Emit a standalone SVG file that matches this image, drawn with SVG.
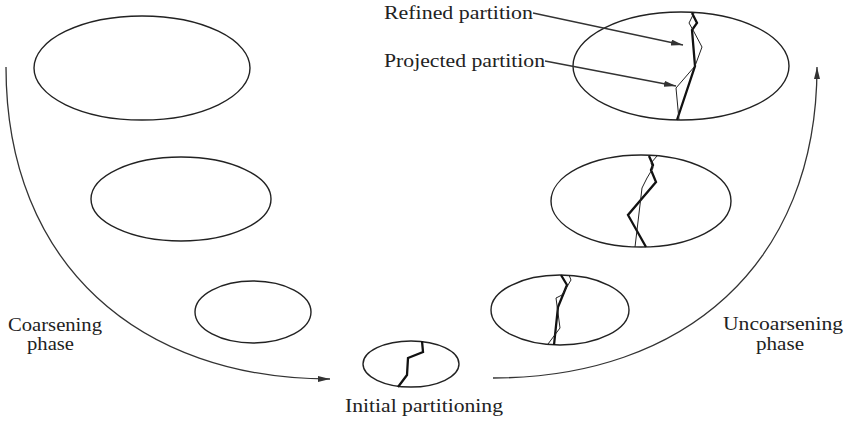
<svg xmlns="http://www.w3.org/2000/svg" width="846" height="425" viewBox="0 0 846 425">
<style>
.e{fill:none;stroke:#222;stroke-width:1.4}
.thick{fill:none;stroke:#111;stroke-width:2.3;stroke-linejoin:miter}
.thin{fill:none;stroke:#222;stroke-width:1}
.c{fill:none;stroke:#333;stroke-width:1.3}
.t{font-family:"Liberation Serif","Times New Roman",serif;font-size:19px;fill:#222}
</style>
<defs>
<marker id="ah" viewBox="0 0 12 6" refX="12" refY="3" markerWidth="12" markerHeight="6" markerUnits="userSpaceOnUse" orient="auto">
<path d="M0,0 L12,3 L0,6 Z" fill="#333"/>
</marker>
</defs>
<rect width="846" height="425" fill="#fff"/>
<g id="left1"><ellipse class="e" cx="142" cy="68" rx="108" ry="52"/></g>
<g id="left2"><ellipse class="e" cx="181" cy="199" rx="90" ry="42"/></g>
<g id="left3"><ellipse class="e" cx="253" cy="312" rx="58" ry="31"/></g>
<g id="bottom">
<ellipse class="e" cx="411" cy="364" rx="48" ry="23"/>
<polyline class="thick" points="422,341 423,352 408,358 407,375 398,387"/>
</g>
<g id="right3">
<ellipse class="e" cx="560" cy="310" rx="69" ry="35"/>
<polyline class="thick" points="561,275 567,285 558,307 554,345"/>
<polyline class="thin" points="569,275 571,280 562,295 556,298 560,328 548,344"/>
</g>
<g id="right2">
<ellipse class="e" cx="641" cy="201" rx="90" ry="46"/>
<polyline class="thick" points="649,156 653,165 651,170 656,182 628,215 646,247"/>
<polyline class="thin" points="657,156 651,163 653,168 647,178 642,188 635,247"/>
</g>
<g id="right1">
<ellipse class="e" cx="681" cy="66" rx="108" ry="54"/>
<polyline class="thick" points="692,13 697,23 692,30 695,66 677,120"/>
<polyline class="thin" points="694,13 689,23 693,30 702,47 695,66 676,88 679,120"/>
</g>
<g id="labels">
<text class="t" x="384" y="19" textLength="149" lengthAdjust="spacingAndGlyphs">Refined partition</text>
<text class="t" x="384" y="67" textLength="161" lengthAdjust="spacingAndGlyphs">Projected partition</text>
<text class="t" x="8" y="331" textLength="94" lengthAdjust="spacingAndGlyphs">Coarsening</text>
<text class="t" x="27" y="350" textLength="47" lengthAdjust="spacingAndGlyphs">phase</text>
<text class="t" x="723" y="330" textLength="120" lengthAdjust="spacingAndGlyphs">Uncoarsening</text>
<text class="t" x="756" y="350" textLength="48" lengthAdjust="spacingAndGlyphs">phase</text>
<text class="t" x="345" y="412" textLength="158" lengthAdjust="spacingAndGlyphs">Initial partitioning</text>
</g>
<g id="connectors">
<path class="c" d="M6,67 C6,265 140,379 330,379" marker-end="url(#ah)"/>
<path class="c" d="M493,378 C683,378 817,265 817,67" marker-end="url(#ah)"/>
<path class="c" d="M533,13 L683,45" marker-end="url(#ah)"/>
<path class="c" d="M545,61 L676,86" marker-end="url(#ah)"/>
</g>
</svg>
